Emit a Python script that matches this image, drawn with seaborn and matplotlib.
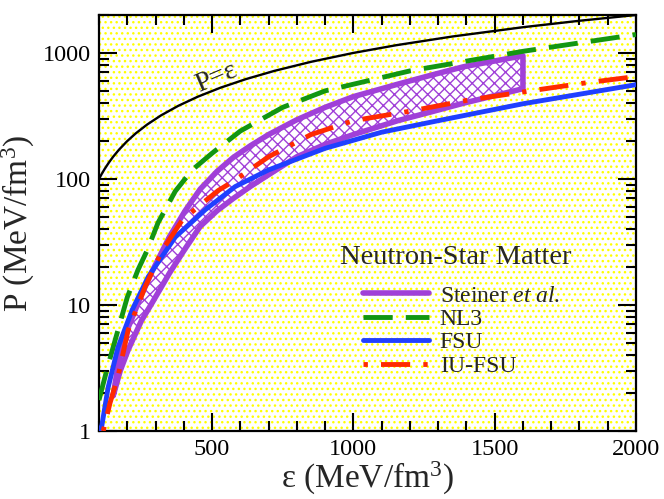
import numpy as np
import pandas as pd
import matplotlib
matplotlib.use("Agg")
import matplotlib.pyplot as plt
import seaborn as sns
from matplotlib.ticker import FixedLocator, NullFormatter, FuncFormatter, LogLocator, MultipleLocator
from matplotlib.lines import Line2D

# ---------------- data ----------------
eps_causal = [100, 110, 120, 135, 150, 170, 200, 230, 270, 320, 380, 450, 530,
              620, 720, 850, 1000, 1150, 1350, 1600, 1800, 2000]
P_causal = [100, 110, 120, 135, 150, 170, 200, 230, 270, 320, 380, 450, 530,
            620, 720, 850, 1000, 1150, 1350, 1600, 1800, 2000]

eps_nl3 = [100, 130, 167, 200, 238, 270, 309, 370, 430, 500, 600, 750, 900, 1200, 1600, 2000]
P_nl3 = [1.76, 3.2, 6.3, 11.5, 19, 27, 45, 80, 118, 160, 240, 370, 500, 720, 1030, 1400]

eps_fsu = [100, 110, 132, 167, 217, 274, 370, 476, 582, 700, 900, 1100, 1300, 1600, 2000]
P_fsu = [1.0, 1.1, 2.2, 4.6, 9.1, 16.7, 34.6, 57, 87, 118, 175, 235, 290, 395, 560]

eps_iufsu = [115, 139, 167, 203, 263, 323, 394, 465, 522, 582, 700, 850, 1000, 1200, 1400, 1600, 1800, 2000]
P_iufsu = [1.0, 1.67, 2.7, 6.3, 13.9, 27, 47, 64, 81, 98, 150, 225, 290, 345, 420, 490, 570, 650]

eps_steiner = [150, 175, 203, 250, 288, 350, 405, 458, 518, 575, 635, 700, 800, 900, 1000, 1157, 1274, 1391, 1600]
P_steiner_hi = [1.9, 4.2, 6.6, 12.0, 18.5, 35, 56, 83, 115, 148, 183, 225, 295, 370, 450, 565, 665, 778, 950]
P_steiner_lo = [1.9, 3.0, 4.4, 7.5, 10.4, 18, 28, 42, 56, 70, 87, 108, 150, 188, 225, 290, 340, 400, 520]

legend_labels = ["Steiner $\\mathit{et\\ al}$.", "NL3", "FSU", "IU-FSU"]
legend_title = "Neutron-Star Matter"

# ---------------- style ----------------
sns.set_theme(style="ticks")
plt.rcParams["font.family"] = ["Liberation Serif", "DejaVu Serif"]
plt.rcParams["mathtext.fontset"] = "custom"
plt.rcParams["mathtext.rm"] = "Liberation Serif"
plt.rcParams["mathtext.it"] = "Liberation Serif:italic"
plt.rcParams["mathtext.bf"] = "Liberation Serif:bold"
plt.rcParams["hatch.linewidth"] = 1.0

PURPLE = "#a040d8"
GREEN = "#129612"
BLUE = "#1f3fff"
RED = "#ff2a00"
DASH_NL3 = (0, (6, 2.7))
DASH_IU = (0, (0.9, 2.7, 6, 2.7))

fig = plt.figure(figsize=(6.64, 4.99), dpi=100)
ax = fig.add_axes([99/664, (499-431)/499, (636-99)/664, (431-15)/499])

# dotted yellow background
ax.set_facecolor("white")
bg = plt.Rectangle((0, 0), 1, 1, transform=ax.transAxes, facecolor="white",
                   edgecolor="#ffff00", hatch="...", lw=0, zorder=0)
ax.add_patch(bg)

# Steiner band
band_x = list(eps_steiner) + list(eps_steiner[::-1])
band_y = list(P_steiner_hi) + list(P_steiner_lo[::-1])
ax.fill(band_x, band_y, facecolor="white", edgecolor=PURPLE, hatch="xxx",
        lw=4, zorder=2, joinstyle="round")

df = lambda e, p: pd.DataFrame({"eps": e, "P": p})
sns.lineplot(data=df(eps_causal, P_causal), x="eps", y="P", ax=ax, color="black",
             lw=1.7, sort=False, zorder=3)
sns.lineplot(data=df(eps_nl3, P_nl3), x="eps", y="P", ax=ax, color=GREEN,
             lw=3.5, linestyle=DASH_NL3, sort=False, zorder=3)
sns.lineplot(data=df(eps_fsu, P_fsu), x="eps", y="P", ax=ax, color=BLUE,
             lw=3.5, sort=False, zorder=4)
sns.lineplot(data=df(eps_iufsu, P_iufsu), x="eps", y="P", ax=ax, color=RED,
             lw=3.5, linestyle=DASH_IU, sort=False, zorder=5)

ax.set_yscale("log")
ax.set_xlim(100, 2000)
ax.set_ylim(1, 2000)

ax.xaxis.set_major_locator(FixedLocator([500, 1000, 1500, 2000]))
ax.xaxis.set_minor_locator(MultipleLocator(100))
ax.yaxis.set_major_locator(FixedLocator([1, 10, 100, 1000]))
ax.yaxis.set_minor_locator(LogLocator(base=10, subs=np.arange(2, 10)))
ax.yaxis.set_major_formatter(FuncFormatter(lambda v, p: f"{v:g}"))
ax.yaxis.set_minor_formatter(NullFormatter())

ax.tick_params(which="both", direction="in", top=True, right=True, width=1.5,
               colors="black", labelsize=17.5, pad=6)
ax.tick_params(which="major", length=13)
ax.tick_params(which="minor", length=7)
for s in ax.spines.values():
    s.set_linewidth(1.6)
    s.set_color("black")

ax.set_xlabel("ε (MeV/fm$^3$)", fontsize=24, labelpad=0)
ax.set_ylabel("P (MeV/fm$^3$)", fontsize=24, labelpad=4)

ax.text(515, 640, "P=ε", fontsize=20, rotation=23, ha="center", va="center", zorder=6)

# legend
handles = [
    Line2D([], [], color=PURPLE, lw=4),
    Line2D([], [], color=GREEN, lw=3.5, linestyle=DASH_NL3),
    Line2D([], [], color=BLUE, lw=3.5),
    Line2D([], [], color=RED, lw=3.5, linestyle=DASH_IU),
]
ax.text((340-99)/537, (431-258)/416, legend_title, transform=ax.transAxes,
        fontsize=20.5, ha="left", va="center")
leg = ax.legend(handles, legend_labels, loc="upper left",
                bbox_to_anchor=((363-99)/537, (431-285)/416),
                frameon=False, fontsize=17, handlelength=2.8, handletextpad=0.45,
                labelspacing=0.08, borderpad=0, borderaxespad=0)

fig.savefig("out.png", dpi=100)
